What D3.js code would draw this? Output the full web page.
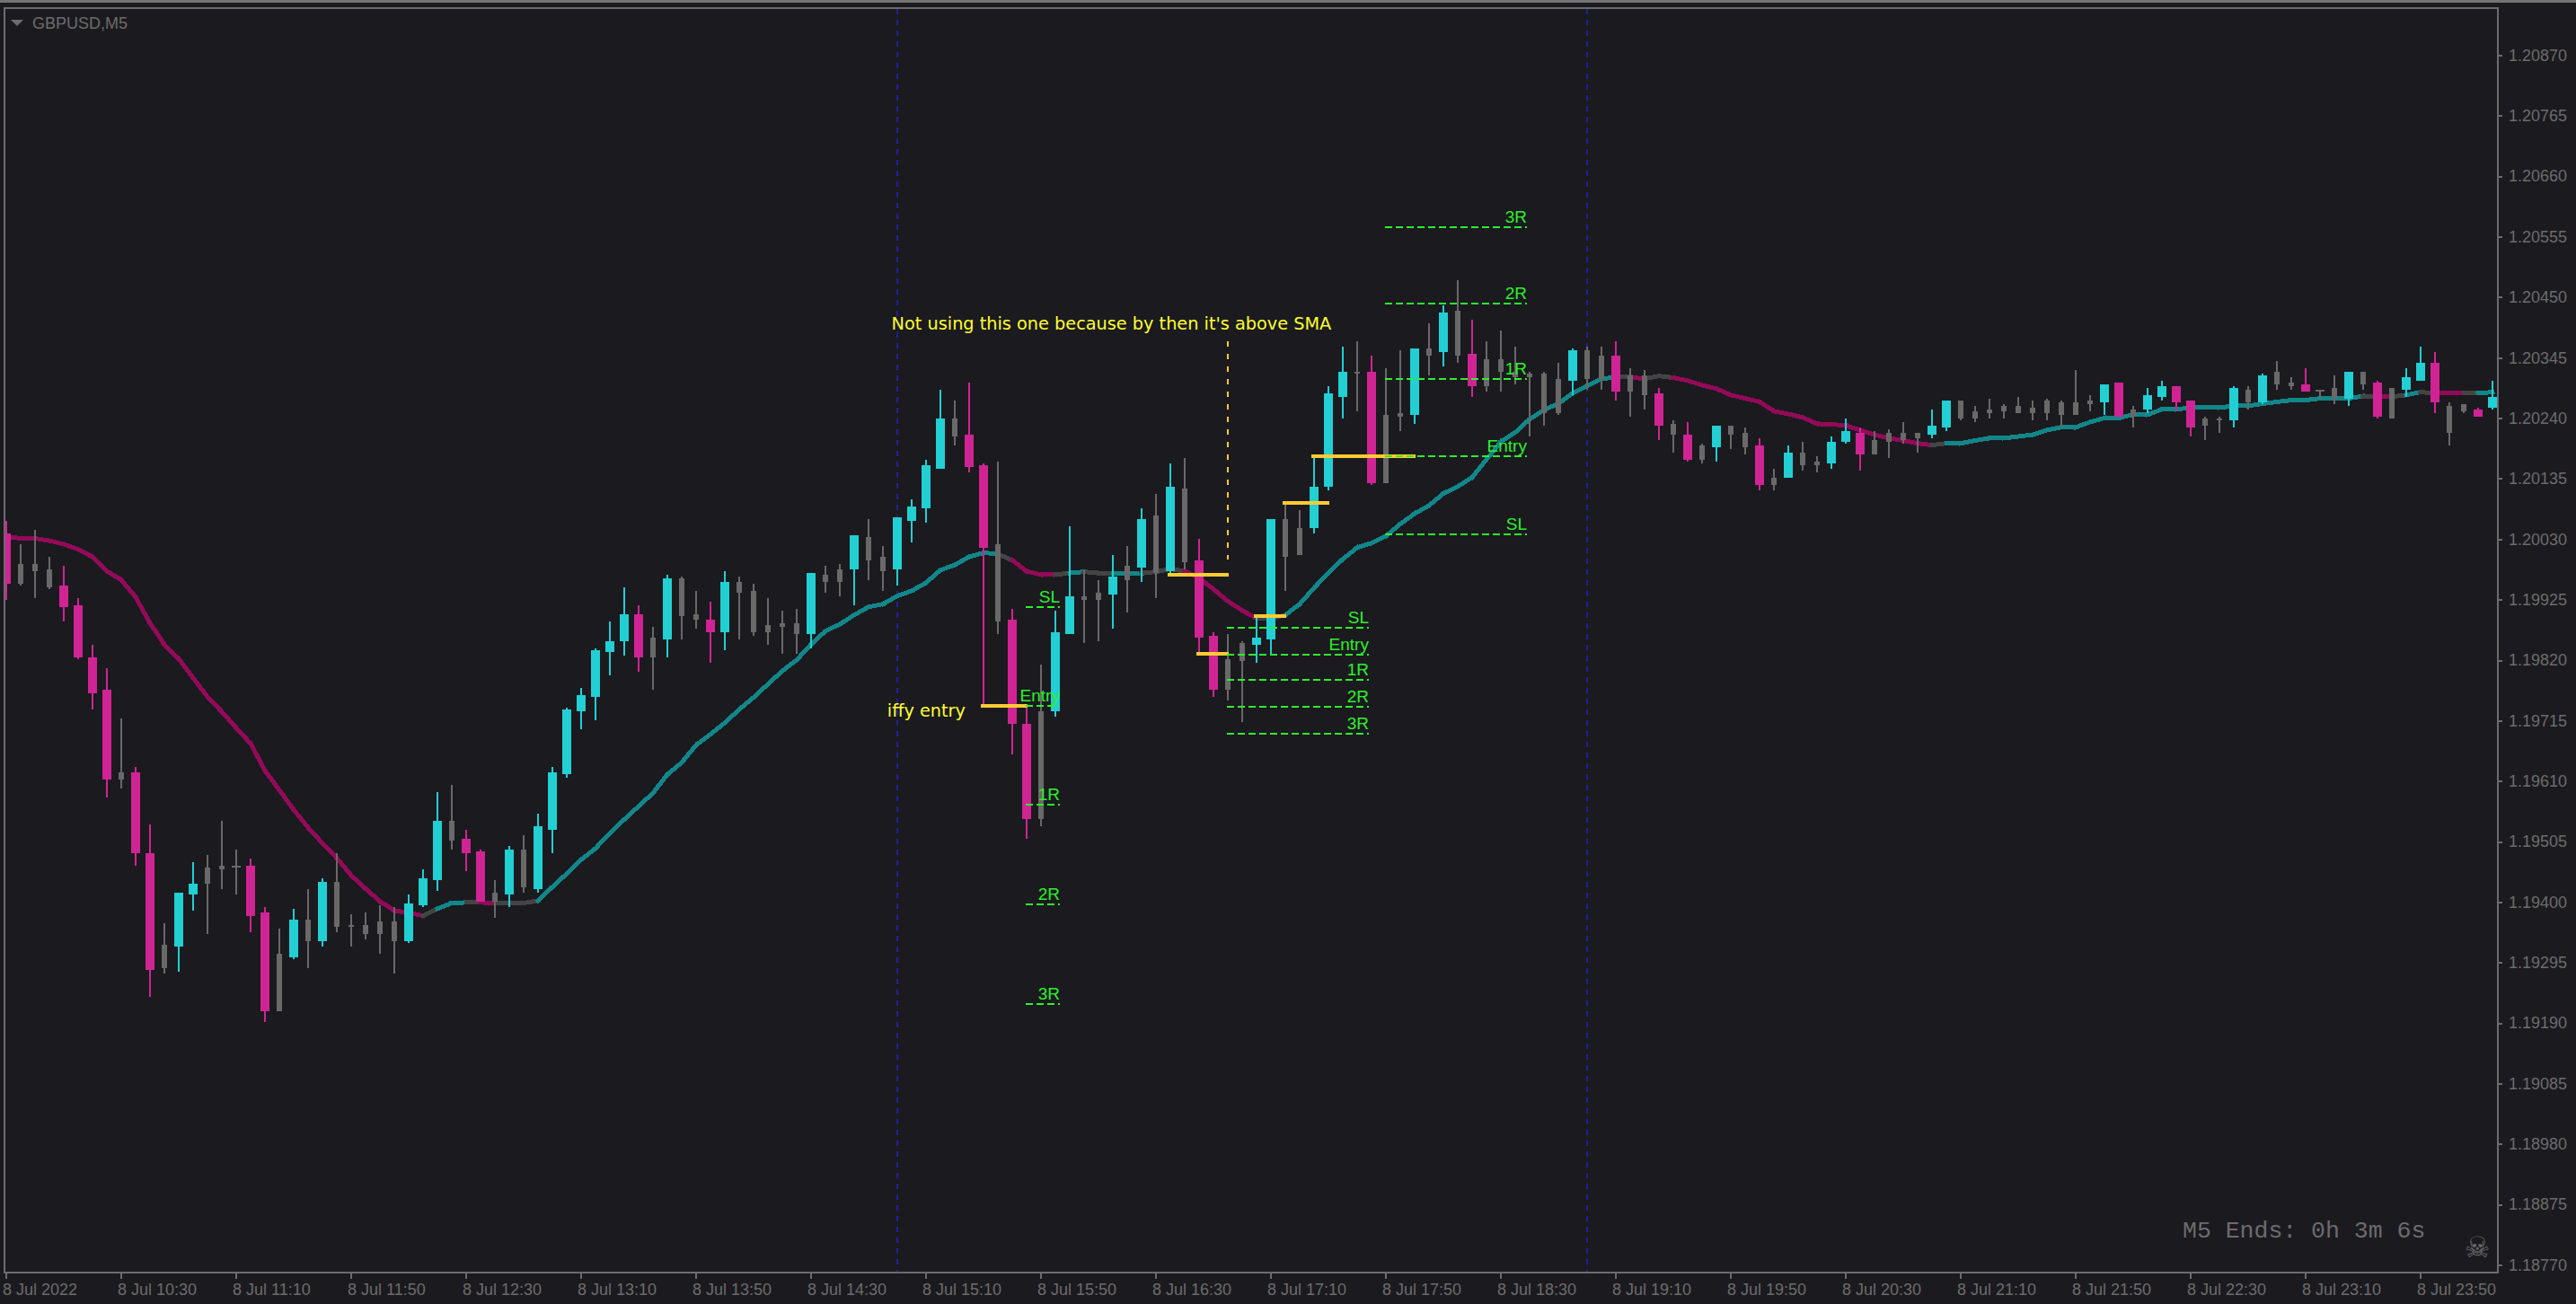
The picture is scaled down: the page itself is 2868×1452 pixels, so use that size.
<!DOCTYPE html>
<html lang="en">
<head>
<meta charset="UTF-8">
<title>GBPUSD,M5</title>
<script src="https://d3js.org/d3.v7.min.js"></script>
<style>
  html, body { margin: 0; padding: 0; background: #1b1a1f; }
  svg { display: block; }
</style>
</head>
<body>
<script>
// u = up (cyan), d = down (pink), n = neutral (grey, narrow), x = neutral doji (grey, wide)
var kinds = ("dnnnddddnd" + "dnuunnxddn" + "ununnnnnuu" + "unddnunuuu" + "uuuudnunnd" +
  "unnnnnunnu" + "nnuuuunddn" + "ddnuunnunu" + "nunddnnuun" + "nuuundnnun" +
  "undnnnnnnu" + "nndnndndnu" + "nndnunnuud" + "nnnnuunnnn" + "nnnnnnudnu" +
  "uddnnununn" + "dxnundnuud" + "nndu").split("");

var highs = [
1.20063,1.20022,1.20047,1.20000,1.19985,1.19929,1.19848,1.19807,1.19720,1.19636,
1.19536,1.19364,1.19417,1.19470,1.19483,1.19542,1.19492,1.19477,1.19392,1.19355,
1.19389,1.19424,1.19442,1.19486,1.19380,1.19383,1.19396,1.19392,1.19414,1.19458,
1.19592,1.19604,1.19526,1.19492,1.19439,1.19498,1.19517,1.19555,1.19636,1.19739,
1.19773,1.19841,1.19888,1.19947,1.19916,1.19879,1.19969,1.19966,1.19941,1.19923,
1.19975,1.19966,1.19954,1.19929,1.19907,1.19910,1.19972,1.19985,1.19988,1.20038,
1.20066,1.20019,1.20069,1.20100,1.20169,1.20290,1.20272,1.20303,1.20163,1.20166,
1.19910,1.19739,1.19813,1.19907,1.20053,1.19979,1.19960,1.20004,1.20019,1.20085,
1.20110,1.20163,1.20172,1.20032,1.19869,1.19866,1.19854,1.19898,1.20066,1.20094,
1.20081,1.20172,1.20297,1.20365,1.20375,1.20350,1.20328,1.20359,1.20362,1.20406,
1.20438,1.20481,1.20412,1.20375,1.20393,1.20365,1.20322,1.20322,1.20337,1.20362,
1.20365,1.20365,1.20375,1.20328,1.20325,1.20293,1.20237,1.20234,1.20197,1.20228,
1.20228,1.20225,1.20206,1.20153,1.20194,1.20200,1.20175,1.20209,1.20241,1.20225,
1.20219,1.20222,1.20234,1.20216,1.20256,1.20272,1.20272,1.20262,1.20275,1.20266,
1.20278,1.20272,1.20275,1.20272,1.20325,1.20281,1.20300,1.20303,1.20262,1.20293,
1.20306,1.20297,1.20272,1.20244,1.20244,1.20297,1.20297,1.20318,1.20340,1.20312,
1.20328,1.20290,1.20315,1.20322,1.20322,1.20306,1.20293,1.20328,1.20365,1.20356,
1.20269,1.20266,1.20259,1.20306];

var bodyTops = [
1.20041,1.19988,1.19988,1.19979,1.19951,1.19916,1.19826,1.19770,1.19626,1.19626,
1.19486,1.19327,1.19417,1.19433,1.19461,1.19464,1.19464,1.19464,1.19383,1.19311,
1.19371,1.19371,1.19436,1.19436,1.19361,1.19361,1.19367,1.19367,1.19399,1.19442,
1.19542,1.19542,1.19511,1.19489,1.19417,1.19492,1.19492,1.19533,1.19626,1.19735,
1.19760,1.19838,1.19854,1.19901,1.19901,1.19860,1.19963,1.19963,1.19901,1.19891,
1.19957,1.19957,1.19941,1.19882,1.19885,1.19885,1.19972,1.19969,1.19979,1.20038,
1.20035,1.20000,1.20069,1.20088,1.20159,1.20241,1.20241,1.20212,1.20159,1.20022,
1.19891,1.19710,1.19732,1.19869,1.19932,1.19932,1.19938,1.19966,1.19985,1.20066,
1.20072,1.20122,1.20119,1.19994,1.19863,1.19823,1.19851,1.19860,1.20066,1.20066,
1.20050,1.20122,1.20284,1.20322,1.20322,1.20322,1.20247,1.20250,1.20362,1.20362,
1.20424,1.20428,1.20353,1.20343,1.20343,1.20320,1.20318,1.20318,1.20309,1.20359,
1.20359,1.20350,1.20350,1.20315,1.20315,1.20284,1.20231,1.20212,1.20194,1.20228,
1.20228,1.20216,1.20194,1.20138,1.20181,1.20181,1.20166,1.20200,1.20219,1.20216,
1.20203,1.20216,1.20216,1.20216,1.20228,1.20272,1.20272,1.20253,1.20256,1.20262,
1.20262,1.20259,1.20272,1.20269,1.20269,1.20272,1.20300,1.20303,1.20256,1.20281,
1.20297,1.20297,1.20272,1.20241,1.20241,1.20293,1.20290,1.20315,1.20322,1.20303,
1.20300,1.20290,1.20293,1.20322,1.20322,1.20303,1.20293,1.20312,1.20337,1.20337,
1.20262,1.20266,1.20256,1.20278];

var bodyBottoms = [
1.19954,1.19954,1.19975,1.19947,1.19913,1.19826,1.19763,1.19614,1.19614,1.19486,
1.19283,1.19286,1.19324,1.19414,1.19433,1.19458,1.19461,1.19377,1.19212,1.19212,
1.19305,1.19333,1.19333,1.19358,1.19358,1.19346,1.19346,1.19333,1.19333,1.19396,
1.19439,1.19508,1.19486,1.19402,1.19402,1.19414,1.19427,1.19424,1.19526,1.19623,
1.19732,1.19757,1.19835,1.19854,1.19826,1.19826,1.19857,1.19898,1.19891,1.19869,
1.19869,1.19938,1.19869,1.19869,1.19879,1.19866,1.19866,1.19957,1.19957,1.19979,
1.19994,1.19975,1.19979,1.20063,1.20085,1.20153,1.20209,1.20156,1.20016,1.19888,
1.19710,1.19545,1.19545,1.19732,1.19866,1.19926,1.19926,1.19935,1.19960,1.19982,
1.19972,1.19975,1.19991,1.19860,1.19770,1.19770,1.19820,1.19848,1.19857,1.20000,
1.20004,1.20050,1.20122,1.20278,1.20318,1.20128,1.20128,1.20244,1.20247,1.20350,
1.20356,1.20350,1.20297,1.20297,1.20322,1.20312,1.20312,1.20250,1.20250,1.20306,
1.20309,1.20309,1.20287,1.20287,1.20281,1.20228,1.20212,1.20169,1.20169,1.20191,
1.20212,1.20191,1.20125,1.20125,1.20138,1.20159,1.20159,1.20163,1.20200,1.20178,
1.20178,1.20200,1.20203,1.20206,1.20212,1.20225,1.20241,1.20241,1.20250,1.20253,
1.20250,1.20250,1.20250,1.20247,1.20247,1.20266,1.20269,1.20244,1.20244,1.20256,
1.20278,1.20269,1.20225,1.20228,1.20239,1.20237,1.20269,1.20269,1.20300,1.20297,
1.20287,1.20287,1.20275,1.20275,1.20300,1.20244,1.20241,1.20290,1.20306,1.20269,
1.20216,1.20253,1.20244,1.20259];

var lows = [
1.19926,1.19951,1.19929,1.19944,1.19888,1.19823,1.19735,1.19583,1.19598,1.19464,
1.19237,1.19277,1.19280,1.19386,1.19346,1.19424,1.19414,1.19349,1.19193,1.19212,
1.19302,1.19286,1.19324,1.19349,1.19324,1.19336,1.19311,1.19277,1.19330,1.19392,
1.19420,1.19492,1.19455,1.19402,1.19374,1.19392,1.19417,1.19417,1.19486,1.19617,
1.19701,1.19717,1.19795,1.19829,1.19801,1.19770,1.19826,1.19857,1.19876,1.19816,
1.19838,1.19857,1.19863,1.19848,1.19832,1.19832,1.19841,1.19938,1.19932,1.19916,
1.19960,1.19941,1.19951,1.20025,1.20060,1.20153,1.20194,1.20147,1.19745,1.19866,
1.19657,1.19511,1.19533,1.19723,1.19866,1.19851,1.19854,1.19876,1.19904,1.19957,
1.19929,1.19972,1.19979,1.19832,1.19757,1.19751,1.19714,1.19816,1.19829,1.19941,
1.20004,1.20041,1.20116,1.20241,1.20253,1.20125,1.20128,1.20219,1.20231,1.20315,
1.20331,1.20337,1.20278,1.20287,1.20287,1.20300,1.20209,1.20228,1.20247,1.20281,
1.20290,1.20290,1.20272,1.20244,1.20256,1.20203,1.20181,1.20166,1.20163,1.20166,
1.20188,1.20178,1.20116,1.20116,1.20138,1.20150,1.20147,1.20153,1.20197,1.20150,
1.20178,1.20172,1.20197,1.20181,1.20206,1.20219,1.20237,1.20234,1.20241,1.20241,
1.20250,1.20237,1.20237,1.20225,1.20247,1.20253,1.20247,1.20244,1.20225,1.20250,
1.20272,1.20253,1.20209,1.20203,1.20216,1.20225,1.20256,1.20266,1.20290,1.20290,
1.20287,1.20275,1.20266,1.20262,1.20290,1.20241,1.20241,1.20278,1.20306,1.20250,
1.20194,1.20250,1.20244,1.20256];

var smaValues = [
1.20035,1.20032,1.20032,1.20028,1.20022,1.20013,1.20000,1.19975,1.19960,1.19930,
1.19885,1.19848,1.19823,1.19790,1.19757,1.19731,1.19703,1.19676,1.19629,1.19595,
1.19561,1.19530,1.19503,1.19477,1.19447,1.19424,1.19402,1.19386,1.19382,1.19377,
1.19389,1.19399,1.19400,1.19400,1.19399,1.19399,1.19399,1.19403,1.19427,1.19450,
1.19474,1.19494,1.19520,1.19544,1.19567,1.19590,1.19622,1.19643,1.19673,1.19692,
1.19712,1.19735,1.19756,1.19779,1.19802,1.19821,1.19848,1.19871,1.19883,1.19899,
1.19913,1.19918,1.19932,1.19941,1.19955,1.19977,1.19986,1.20000,1.20007,1.20005,
1.19994,1.19975,1.19969,1.19969,1.19972,1.19974,1.19972,1.19972,1.19972,1.19972,
1.19974,1.19979,1.19975,1.19963,1.19944,1.19923,1.19907,1.19893,1.19893,1.19899,
1.19918,1.19946,1.19972,1.19996,1.20016,1.20024,1.20036,1.20057,1.20075,1.20089,
1.20110,1.20122,1.20138,1.20169,1.20200,1.20216,1.20239,1.20255,1.20266,1.20284,
1.20297,1.20309,1.20312,1.20312,1.20309,1.20314,1.20311,1.20306,1.20298,1.20292,
1.20281,1.20275,1.20269,1.20253,1.20248,1.20242,1.20231,1.20230,1.20228,1.20220,
1.20212,1.20206,1.20202,1.20197,1.20194,1.20197,1.20197,1.20202,1.20206,1.20206,
1.20209,1.20212,1.20220,1.20225,1.20225,1.20234,1.20241,1.20241,1.20247,1.20247,
1.20256,1.20256,1.20259,1.20259,1.20259,1.20262,1.20262,1.20266,1.20269,1.20272,
1.20272,1.20275,1.20275,1.20275,1.20279,1.20278,1.20278,1.20281,1.20286,1.20284,
1.20284,1.20284,1.20284,1.20286];

// state of the sma segment that ends on each bar: f = falling, r = rising, s = flat
var smaStates = ("ffffffffff" + "ffffffffff" + "ffffffffff" + "srrsfsssrr" + "rrrrrrrrrr" +
  "rrrrrrrrrr" + "rrrrrrrrrr" + "sfffsrssrr" + "sssfffffss" + "rrrrrrrrrr" +
  "rrrrrrrrrr" + "rrrsfssfff" + "ffffffffff" + "fffffsrrrr" + "rrrrrrrrrr" +
  "rrrrrrrrrr" + "rrrrrsfsrs" + "ffsr").split("");

var yTickLabels = ["1.20870","1.20765","1.20660","1.20555","1.20450","1.20345","1.20240",
  "1.20135","1.20030","1.19925","1.19820","1.19715","1.19610","1.19505","1.19400",
  "1.19295","1.19190","1.19085","1.18980","1.18875","1.18770"];
var xTickBars = [0,8,16,24,32,40,48,56,64,72,80,88,96,104,112,120,128,136,144,152,160,168];
var xTickLabels = ["8 Jul 2022","8 Jul 10:30","8 Jul 11:10","8 Jul 11:50","8 Jul 12:30","8 Jul 13:10",
  "8 Jul 13:50","8 Jul 14:30","8 Jul 15:10","8 Jul 15:50","8 Jul 16:30","8 Jul 17:10","8 Jul 17:50",
  "8 Jul 18:30","8 Jul 19:10","8 Jul 19:50","8 Jul 20:30","8 Jul 21:10","8 Jul 21:50","8 Jul 22:30",
  "8 Jul 23:10","8 Jul 23:50"];

var separatorBars = [62, 110];

var entryFrom = [67.8, 80.8, 82.8, 86.8, 88.8, 90.8];
var entryTo = [71.06, 85.06, 85.06, 89.06, 92.06, 98.06];
var entryPrice = [1.19742, 1.19969, 1.19832, 1.19898, 1.20094, 1.20175];

var levelNames = ["SL","Entry","1R","2R","3R", "SL","Entry","1R","2R","3R", "SL","Entry","1R","2R","3R"];
var levelPrice = [1.19912,1.19741,1.19569,1.19397,1.19223,
                  1.19877,1.19830,1.19787,1.19740,1.19693,
                  1.20039,1.20174,1.20308,1.20439,1.20573];
var levelFrom = [70.94,70.94,70.94,70.94,70.94, 84.94,84.94,84.94,84.94,84.94, 95.94,95.94,95.94,95.94,95.94];
var levelTo = [73.31,73.31,73.31,73.31,73.31, 94.81,94.81,94.81,94.81,94.81, 105.81,105.81,105.81,105.81,105.81];

var noteTexts = ["Not using this one because by then it's above SMA", "iffy entry"];
var noteBar = [61.6, 61.3];
var notePrice = [1.20395, 1.19723];
var noteLeaderBar = 85, noteLeaderTop = 1.20375, noteLeaderBottom = 1.19996;

var colors = { u: "#22cfd3", d: "#d02494", n: "#696969", x: "#696969" };
var smaColors = { f: "#920a58", r: "#128688", s: "#444444" };
var axisGrey = "#6c6c6c", green = "#2df02d", gold = "#ffcc33", noteYellow = "#ffff33", blue = "#20209a";

var width = 2868, height = 1452;
var plotLeft = 6, plotRight = 2780, plotTop = 10, plotBottom = 1416;

var x = d3.scaleLinear().domain([0, 173]).range([7, 2775]);
var y = d3.scaleLinear().domain([1.18770, 1.20870]).range([1409, 62]);
// the terminal draws at double pixels, so snap prices to the even grid
var py = function(p) { return Math.round(y(p) / 2) * 2; };

var svg = d3.select("body").append("svg")
    .attr("width", width).attr("height", height)
    .style("background", "#1b1a1f");

svg.append("defs").append("clipPath").attr("id", "plot")
  .append("rect")
    .attr("x", plotLeft).attr("y", plotTop)
    .attr("width", plotRight - plotLeft).attr("height", plotBottom - plotTop);

svg.append("rect").attr("x", 0).attr("y", 0).attr("width", width).attr("height", 3).attr("fill", "#747474");

var plot = svg.append("g").attr("clip-path", "url(#plot)");

plot.selectAll("line.sep").data(separatorBars).join("line")
    .attr("class", "sep")
    .attr("x1", function(d) { return x(d); }).attr("x2", function(d) { return x(d); })
    .attr("y1", plotTop).attr("y2", plotBottom)
    .attr("stroke", blue).attr("stroke-width", 2).attr("stroke-dasharray", "6,6")
    .attr("shape-rendering", "crispEdges");

var smaLine = d3.line().x(function(d) { return x(d.i); }).y(function(d) { return y(d.v); });
var smaSegments = smaValues.slice(1).map(function(v, k) {
  return { state: smaStates[k + 1], pts: [{ i: k, v: smaValues[k] }, { i: k + 1, v: v }] };
});
plot.selectAll("path.sma").data(smaSegments).join("path")
    .attr("class", "sma")
    .attr("d", function(d) { return smaLine(d.pts); })
    .attr("fill", "none")
    .attr("stroke", function(d) { return smaColors[d.state]; })
    .attr("stroke-width", 5)
    .attr("stroke-linecap", "square")
    .attr("shape-rendering", "crispEdges");

var candles = kinds.map(function(k, i) {
  return { i: i, kind: k, high: highs[i], low: lows[i], top: bodyTops[i], bottom: bodyBottoms[i] };
});
var bars = plot.selectAll("g.bar").data(candles).join("g").attr("class", "bar")
    .attr("shape-rendering", "crispEdges");
bars.append("rect")
    .attr("x", function(d) { return x(d.i) - 1; })
    .attr("y", function(d) { return py(d.high); })
    .attr("width", 2)
    .attr("height", function(d) { return Math.max(0, py(d.low) - py(d.high)); })
    .attr("fill", function(d) { return colors[d.kind]; });
bars.append("rect")
    .attr("x", function(d) { return x(d.i) - (d.kind == "n" ? 3 : 5); })
    .attr("y", function(d) { return py(d.top); })
    .attr("width", function(d) { return d.kind == "n" ? 6 : 10; })
    .attr("height", function(d) { return Math.max(2, py(d.bottom) - py(d.top)); })
    .attr("fill", function(d) { return colors[d.kind]; });

var annotations = svg.append("g");

annotations.append("line")
    .attr("x1", x(noteLeaderBar)).attr("x2", x(noteLeaderBar))
    .attr("y1", y(noteLeaderTop)).attr("y2", y(noteLeaderBottom))
    .attr("stroke", gold).attr("stroke-width", 2).attr("stroke-dasharray", "6,8")
    .attr("shape-rendering", "crispEdges");

annotations.selectAll("line.entry").data(entryPrice).join("line")
    .attr("class", "entry")
    .attr("x1", function(d, i) { return x(entryFrom[i]); })
    .attr("x2", function(d, i) { return x(entryTo[i]); })
    .attr("y1", function(d) { return py(d); }).attr("y2", function(d) { return py(d); })
    .attr("stroke", gold).attr("stroke-width", 4)
    .attr("shape-rendering", "crispEdges");

annotations.selectAll("line.level").data(levelPrice).join("line")
    .attr("class", "level")
    .attr("x1", function(d, i) { return x(levelFrom[i]); })
    .attr("x2", function(d, i) { return x(levelTo[i]); })
    .attr("y1", function(d) { return y(d); }).attr("y2", function(d) { return y(d); })
    .attr("stroke", green).attr("stroke-width", 2).attr("stroke-dasharray", "8,4")
    .attr("shape-rendering", "crispEdges");

annotations.selectAll("text.level").data(levelPrice).join("text")
    .attr("class", "level")
    .attr("x", function(d, i) { return x(levelTo[i]); })
    .attr("y", function(d) { return y(d) - 5; })
    .attr("text-anchor", "end")
    .attr("font-family", "'Liberation Sans'").attr("font-size", 19)
    .attr("fill", green)
    .text(function(d, i) { return levelNames[i]; });

annotations.selectAll("text.note").data(noteTexts).join("text")
    .attr("class", "note")
    .attr("x", function(d, i) { return x(noteBar[i]); })
    .attr("y", function(d, i) { return y(notePrice[i]); })
    .attr("font-family", "'DejaVu Sans'").attr("font-size", 19.3)
    .attr("fill", noteYellow)
    .text(function(d) { return d; });

// frame
svg.append("rect")
    .attr("x", 5).attr("y", 9).attr("width", 2776).attr("height", 1408)
    .attr("fill", "none").attr("stroke", axisGrey).attr("stroke-width", 2)
    .attr("shape-rendering", "crispEdges");

var yAxis = d3.axisRight(y)
    .tickValues(yTickLabels.map(Number))
    .tickFormat(function(d, i) { return yTickLabels[i]; })
    .tickSize(5).tickPadding(7).offset(0);
var yG = svg.append("g").attr("transform", "translate(2781,0)").call(yAxis);
yG.select(".domain").remove();
yG.selectAll("line").attr("stroke", axisGrey).attr("stroke-width", 2).attr("shape-rendering", "crispEdges");
yG.selectAll("text").attr("font-family", "'Liberation Sans'").attr("font-size", 18).attr("fill", axisGrey);

var xAxis = d3.axisBottom(x)
    .tickValues(xTickBars)
    .tickFormat(function(d, i) { return xTickLabels[i]; })
    .tickSize(7).tickPadding(5).offset(0);
var xG = svg.append("g").attr("transform", "translate(0,1417)").call(xAxis);
xG.select(".domain").remove();
xG.selectAll("line").attr("stroke", axisGrey).attr("stroke-width", 2).attr("shape-rendering", "crispEdges");
xG.selectAll("text")
    .attr("text-anchor", "start").attr("x", -4)
    .attr("font-family", "'Liberation Sans'").attr("font-size", 18).attr("fill", axisGrey);

// title, timer and the little skull
svg.append("path").attr("d", d3.line()([[12, 22], [26, 22], [19, 29]]) + "Z").attr("fill", axisGrey);
svg.append("text").attr("x", 36).attr("y", 32)
    .attr("font-family", "'Liberation Sans'").attr("font-size", 18).attr("fill", axisGrey)
    .text("GBPUSD,M5");
svg.append("text").attr("x", 2430).attr("y", 1378)
    .attr("font-family", "'Liberation Mono'").attr("font-size", 26.5).attr("fill", axisGrey)
    .text("M5 Ends: 0h 3m 6s");
svg.append("text").attr("x", 2758).attr("y", 1400).attr("text-anchor", "middle")
    .attr("font-family", "'DejaVu Sans'").attr("font-size", 32).attr("fill", axisGrey)
    .text("\u2620");
</script>
</body>
</html>
